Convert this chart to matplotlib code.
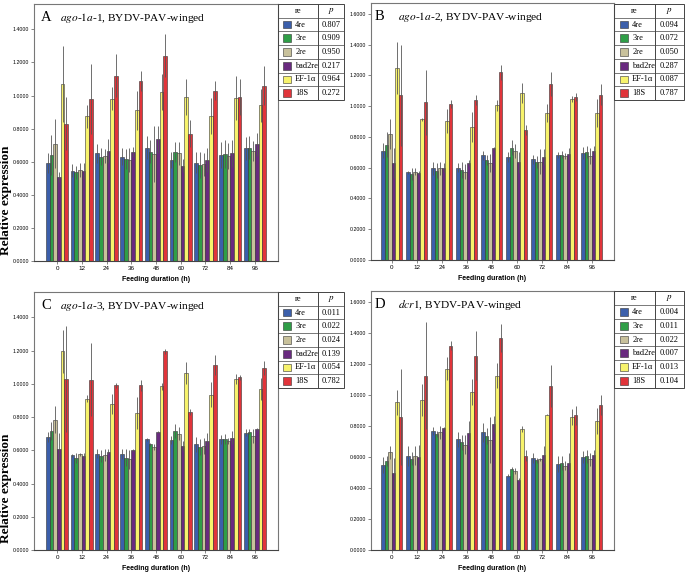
import numpy as np
import matplotlib
matplotlib.use("Agg")
import matplotlib.pyplot as plt
from matplotlib.patches import Rectangle

plt.rcParams['mathtext.fontset'] = 'stix'

# Data
hours = ['0', '12', '24', '36', '48', '60', '72', '84', '96']
genes = ['4re', '3re', '2re', 'bad2re', 'EF-1α', '18S']
colors = ['#3b5fab', '#2f9e47', '#c8c19b', '#692a7f', '#f7f36c', '#e1343a']

# panel A  ago-1a-1
a_mean = [
    [0.59, 0.545, 0.65, 0.63, 0.685, 0.61, 0.595, 0.64, 0.68],
    [0.64, 0.535, 0.63, 0.615, 0.66, 0.66, 0.58, 0.645, 0.685],
    [0.71, 0.55, 0.635, 0.61, 0.645, 0.65, 0.585, 0.635, 0.665],
    [0.51, 0.545, 0.665, 0.66, 0.735, 0.575, 0.61, 0.65, 0.705],
    [1.07, 0.875, 0.98, 0.91, 1.02, 0.99, 0.875, 0.985, 0.94],
    [0.83, 0.98, 1.12, 1.09, 1.24, 0.77, 1.03, 0.99, 1.06],
]
a_err = [
    [0.06, 0.04, 0.06, 0.05, 0.07, 0.05, 0.065, 0.08, 0.07],
    [0.12, 0.04, 0.05, 0.06, 0.07, 0.06, 0.08, 0.085, 0.07],
    [0.15, 0.04, 0.04, 0.07, 0.17, 0.07, 0.07, 0.08, 0.06],
    [0.03, 0.05, 0.075, 0.03, 0.08, 0.04, 0.07, 0.08, 0.07],
    [0.23, 0.07, 0.07, 0.12, 0.11, 0.11, 0.11, 0.13, 0.10],
    [0.16, 0.21, 0.13, 0.06, 0.13, 0.08, 0.06, 0.11, 0.12],
]
a_p = ['0.807', '0.909', '0.950', '0.217', '0.964', '0.272']

# panel B  ago-1a-2
b_mean = [
    [0.71, 0.57, 0.595, 0.60, 0.68, 0.67, 0.655, 0.68, 0.695],
    [0.75, 0.56, 0.58, 0.585, 0.65, 0.73, 0.635, 0.685, 0.70],
    [0.82, 0.575, 0.595, 0.575, 0.63, 0.71, 0.64, 0.675, 0.675],
    [0.63, 0.565, 0.60, 0.63, 0.725, 0.635, 0.67, 0.69, 0.71],
    [1.25, 0.915, 0.905, 0.865, 1.005, 1.085, 0.955, 1.045, 0.955],
    [1.07, 1.025, 1.015, 1.04, 1.22, 0.845, 1.145, 1.06, 1.075],
]
b_err = [
    [0.05, 0.01, 0.04, 0.03, 0.03, 0.035, 0.03, 0.02, 0.04],
    [0.08, 0.04, 0.05, 0.05, 0.03, 0.05, 0.04, 0.025, 0.04],
    [0.10, 0.02, 0.04, 0.05, 0.06, 0.045, 0.08, 0.02, 0.05],
    [0.10, 0.015, 0.03, 0.02, 0.01, 0.07, 0.05, 0.04, 0.03],
    [0.17, 0.01, 0.08, 0.10, 0.035, 0.065, 0.06, 0.02, 0.09],
    [0.33, 0.21, 0.025, 0.03, 0.05, 0.03, 0.08, 0.025, 0.07],
]
b_p = ['0.094', '0.072', '0.050', '0.287', '0.087', '0.787']

# panel C  ago-1a-3
c_mean = [
    [0.68, 0.57, 0.58, 0.575, 0.665, 0.66, 0.635, 0.665, 0.705],
    [0.715, 0.555, 0.565, 0.555, 0.635, 0.715, 0.62, 0.67, 0.71],
    [0.785, 0.575, 0.57, 0.545, 0.62, 0.70, 0.625, 0.655, 0.685],
    [0.605, 0.565, 0.59, 0.60, 0.71, 0.625, 0.655, 0.675, 0.725],
    [1.195, 0.91, 0.88, 0.825, 0.985, 1.065, 0.935, 1.03, 0.97],
    [1.03, 1.025, 0.99, 0.99, 1.195, 0.83, 1.115, 1.04, 1.095],
]
c_err = [
    [0.03, 0.01, 0.025, 0.03, 0.01, 0.025, 0.045, 0.025, 0.02],
    [0.055, 0.03, 0.035, 0.05, 0.01, 0.04, 0.05, 0.03, 0.015],
    [0.08, 0.01, 0.035, 0.055, 0.02, 0.04, 0.05, 0.02, 0.04],
    [0.10, 0.02, 0.015, 0.01, 0.005, 0.03, 0.05, 0.04, 0.01],
    [0.13, 0.02, 0.06, 0.095, 0.02, 0.065, 0.075, 0.03, 0.065],
    [0.32, 0.22, 0.015, 0.035, 0.015, 0.02, 0.06, 0.015, 0.04],
]
c_p = ['0.011', '0.022', '0.024', '0.139', '0.054', '0.782']

# panel D  dcr1
d_mean = [
    [0.55, 0.605, 0.77, 0.715, 0.76, 0.48, 0.595, 0.555, 0.60],
    [0.575, 0.59, 0.75, 0.695, 0.735, 0.525, 0.58, 0.56, 0.605],
    [0.63, 0.61, 0.76, 0.68, 0.71, 0.51, 0.585, 0.545, 0.585],
    [0.495, 0.60, 0.785, 0.755, 0.815, 0.455, 0.615, 0.565, 0.615],
    [0.955, 0.97, 1.17, 1.02, 1.125, 0.78, 0.875, 0.86, 0.835],
    [0.86, 1.125, 1.32, 1.255, 1.37, 0.61, 1.06, 0.87, 0.935],
]
d_err = [
    [0.05, 0.065, 0.025, 0.05, 0.06, 0.01, 0.03, 0.05, 0.04],
    [0.03, 0.04, 0.02, 0.05, 0.05, 0.01, 0.015, 0.045, 0.04],
    [0.04, 0.06, 0.04, 0.06, 0.15, 0.02, 0.01, 0.03, 0.04],
    [0.10, 0.08, 0.01, 0.08, 0.05, 0.01, 0.055, 0.06, 0.03],
    [0.08, 0.105, 0.075, 0.085, 0.08, 0.02, 0.005, 0.05, 0.085],
    [0.31, 0.345, 0.03, 0.16, 0.09, 0.035, 0.135, 0.06, 0.065],
]
d_p = ['0.004', '0.011', '0.022', '0.007', '0.013', '0.104']

W, H = 686, 573
fig = plt.figure(figsize=(W / 100, H / 100), dpi=100)

def px(l, t, r, b):
    # pixel box -> figure fraction rect
    return [l / W, 1 - b / H, (r - l) / W, (b - t) / H]

def draw_panel(rect, mean, err, letter, title, ymax, ytop, xlim, gw, lx, tx):
    ax = fig.add_axes(rect)
    x = np.arange(len(hours))
    n = len(genes)
    bw = gw / n
    for i in range(n):
        xs = x - gw / 2 + bw * (i + 0.5)
        ax.bar(xs, mean[i], bw, color=colors[i], edgecolor='#333333', linewidth=0.4, zorder=2)
        ax.errorbar(xs, mean[i], yerr=err[i], fmt='none', ecolor='#555555',
                    elinewidth=0.7, capsize=0, alpha=0.85, zorder=3)
    ax.set_xlim(*xlim)
    ax.set_ylim(0, ytop)
    yt = np.arange(0, ymax + 0.01, 0.2)
    ax.set_yticks(yt)
    ax.set_yticklabels(['%.4f' % v for v in yt], fontsize=3.8, family='Liberation Sans')
    ax.set_xticks(x)
    ax.set_xticklabels(hours, fontsize=4.5, family='Liberation Sans')
    ax.tick_params(length=2, width=0.5, color='#555555', pad=1.5)
    for s in ax.spines.values():
        s.set_color('#777777')
        s.set_linewidth(0.8)
    ax.spines['bottom'].set_color('#444444')
    ax.set_xlabel('Feeding duration (h)', fontsize=5, family='Liberation Sans',
                  fontweight='bold', labelpad=4)
    ax.text(lx, 0.948, letter, transform=ax.transAxes, fontsize=10.5,
            family='Liberation Serif', va='center', ha='left')
    ax.text(tx, 0.945, title, transform=ax.transAxes, fontsize=8.2,
            family='Liberation Serif', va='center', ha='left')
    return ax

def draw_table(rect, pvals, split):
    t = fig.add_axes(rect)
    t.set_xlim(0, 1)
    t.set_ylim(7, 0)
    t.axis('off')
    lc = '#444444'
    t.add_patch(Rectangle((0, 0), 1, 7, fill=False, edgecolor=lc, linewidth=0.7, clip_on=False))
    for k in range(1, 7):
        t.plot([0, 1], [k, k], color=lc, linewidth=0.5)
    t.plot([split, split], [0, 7], color=lc, linewidth=0.7)
    t.text(split / 2, 0.5, 're', ha='center', va='center', fontsize=6, family='Liberation Serif')
    t.text((1 + split) / 2, 0.5, r'$\it{p}$', ha='center', va='center', fontsize=6.5)
    for k in range(len(genes)):
        yc = k + 1.5
        t.add_patch(Rectangle((0.08, yc - 0.28), 0.12, 0.56, facecolor=colors[k],
                              edgecolor='#333333', linewidth=0.4))
        t.text(0.26, yc, genes[k], ha='left', va='center', fontsize=6, family='Liberation Serif')
        t.text((1 + split) / 2, yc, pvals[k], ha='center', va='center', fontsize=6,
               family='Liberation Serif')

draw_panel(px(34, 4, 278, 261), a_mean, a_err, 'A',
           r'$\it{ago}$-$\it{1a}$-1, BYDV-PAV-winged', 1.4, 1.553, (-0.93, 8.93), 0.9,
           0.03, 0.108)
draw_table(px(278, 4, 344, 100), a_p, 0.606)

draw_panel(px(371, 3, 614, 260), b_mean, b_err, 'B',
           r'$\it{ago}$-$\it{1a}$-2, BYDV-PAV-winged', 1.6, 1.671, (-0.83, 8.89), 0.84,
           0.016, 0.11)
draw_table(px(614, 4, 684, 100), b_p, 0.58)

draw_panel(px(34, 292, 278, 550), c_mean, c_err, 'C',
           r'$\it{ago}$-$\it{1a}$-3, BYDV-PAV-winged', 1.4, 1.552, (-0.93, 8.93), 0.9,
           0.03, 0.108)
draw_table(px(278, 292, 344, 388), c_p, 0.606)

draw_panel(px(371, 291, 614, 550), d_mean, d_err, 'D',
           r'$\it{dcr1}$, BYDV-PAV-winged', 1.6, 1.673, (-0.83, 8.89), 0.84,
           0.016, 0.11)
draw_table(px(614, 291, 684, 388), d_p, 0.58)

# y labels sit low on the left edge, as in the reference
for yc in (200, 488):
    fig.text(6 / W, 1 - yc / H, 'Relative expression', rotation=90, ha='center', va='center',
             fontsize=9.5, family='Liberation Serif', fontweight='bold')

fig.savefig('out.png', dpi=100)
